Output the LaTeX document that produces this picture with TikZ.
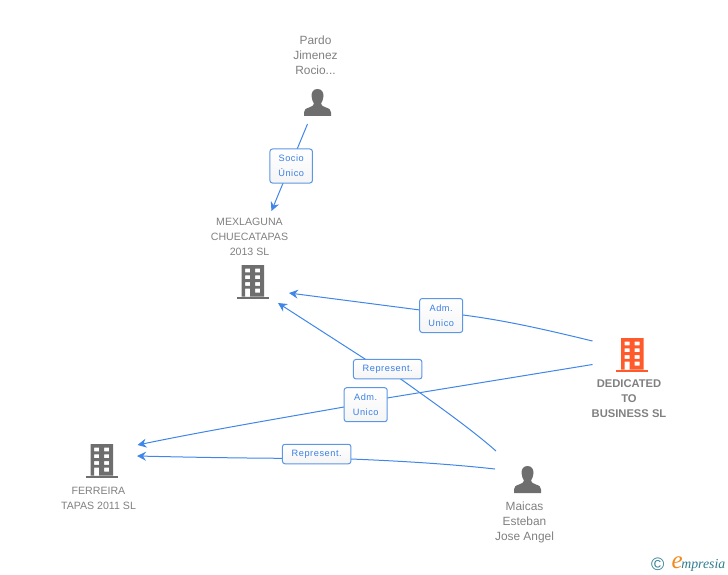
\documentclass[tikz,border=0pt]{standalone}
\usepackage{fontspec}
\setmainfont{Liberation Sans}
\newfontfamily\lblfont[LetterSpace=6]{Liberation Sans}
\newfontfamily\logofont{Liberation Serif}
\usetikzlibrary{arrows.meta}
\definecolor{txtgray}{HTML}{808080}
\definecolor{icongray}{HTML}{6E6E6E}
\definecolor{orangeb}{HTML}{FF5A2B}
\definecolor{linkblue}{HTML}{3F86E8}
\definecolor{boxblue}{HTML}{5C97E6}
\definecolor{lbltxt}{HTML}{3A7FE6}
\definecolor{logoteal}{HTML}{2F7C90}
\definecolor{logoorange}{HTML}{F08A1D}
\tikzset{
  x=1pt,y=-1pt,
  name text/.style={font=\fontsize{10.6}{15}\selectfont,text=txtgray,align=center,inner sep=0pt},
  person text/.style={font=\fontsize{11.9}{15}\selectfont,text=txtgray,align=center,inner sep=0pt},
  edge line/.style={draw=linkblue,line width=1pt,-{Stealth[length=9pt,width=9pt,inset=3pt]}},
  edge tag/.style={draw=boxblue,line width=1pt,rounded corners=2.5pt,top color=white,bottom color=white!96!black,
    text=lbltxt,font=\lblfont\fontsize{9.2}{15}\selectfont,align=center,inner sep=0pt,minimum height=#1},
  edge tag/.default=34pt,
}
\newcommand{\buildingicon}[3]{% left, top, colour
  \begin{scope}[shift={(#1,#2)}]
    \fill[#3,even odd rule] (5,0) rectangle (27.5,31.5)
      (8.7,3.6) rectangle (13.5,7.4) (18.7,3.6) rectangle (23.5,7.4)
      (8.7,10.3) rectangle (13.5,14.1) (18.7,10.3) rectangle (23.5,14.1)
      (8.7,17) rectangle (13.5,20.8) (18.7,17) rectangle (23.5,20.8)
      (8.7,23.7) rectangle (13.5,31.5) (18.7,23.7) rectangle (23.5,27.5);
    \fill[#3] (0,31.5) rectangle (32,34);
  \end{scope}}
\newcommand{\personicon}[2]{% left, top
  \begin{scope}[shift={(#1,#2)}]
    \fill[icongray] (13.5,0) .. controls (9,0) and (7.5,3.5) .. (7.5,7)
      .. controls (7.5,10) and (9,13) .. (10,14.5)
      .. controls (10,16.5) and (8,17.5) .. (5,18.5)
      .. controls (1.5,19.5) and (0,21) .. (0,23.5) -- (0,27) -- (27,27) -- (27,23.5)
      .. controls (27,21) and (25.5,19.5) .. (22,18.5)
      .. controls (19,17.5) and (17,16.5) .. (17,14.5)
      .. controls (18,13) and (19.5,10) .. (19.5,7)
      .. controls (19.5,3.5) and (18,0) .. (13.5,0) -- cycle;
  \end{scope}}
\begin{document}
\begin{tikzpicture}
\useasboundingbox (0,0) rectangle (728,575);
% anchors of the connectors
\coordinate (pardoOut) at (307.5,124);
\coordinate (mexIn1) at (271.5,211);
\coordinate (mexIn2) at (289,293);
\coordinate (mexIn3) at (278,303);
\coordinate (dedOut1) at (592.5,341);
\coordinate (dedOut2) at (592.5,364.5);
\coordinate (ferIn1) at (137.5,445);
\coordinate (ferIn2) at (137,456);
\coordinate (maiOut1) at (496,451);
\coordinate (maiOut2) at (495,469);
% connectors
\draw[edge line] (pardoOut) -- (mexIn1);
\draw[edge line] (dedOut1) .. controls (555,332) and (510,321) .. (463,315) -- (420,310) -- (mexIn2);
\draw[edge line] (maiOut1) .. controls (470,428) and (430,400) .. (400,378.5) -- (365,359) -- (mexIn3);
\draw[edge line] (dedOut2) -- (387,398) -- (344,407) .. controls (270,420) and (200,432) .. (ferIn1);
\draw[edge line] (maiOut2) .. controls (450,464) and (400,461) .. (351,459) -- (282,458.3) .. controls (230,458) and (180,457) .. (ferIn2);
% labels on connectors
\node[edge tag=34pt,minimum width=42.5pt] (socio) at (291.2,166) {Socio\\Único};
\node[edge tag=34pt,minimum width=43pt] (adm1) at (441.2,315.5) {Adm.\\Unico};
\node[edge tag=19.5pt,minimum width=68.5pt] (rep1) at (387.7,369.2) {Represent.};
\node[edge tag=34pt,minimum width=43pt] (adm2) at (365.7,404.7) {Adm.\\Unico};
\node[edge tag=19.5pt,minimum width=68.5pt] (rep2) at (316.7,454) {Represent.};
% icons
\buildingicon{616}{338}{orangeb}
\buildingicon{236.5}{265}{icongray}
\buildingicon{85.5}{444}{icongray}
\personicon{304}{89}
\personicon{514}{466}
% names
\node[person text] (pardo) at (315.5,55) {Pardo\\Jimenez\\Rocio...};
\node[name text] (mex) at (249.5,236.7) {MEXLAGUNA\\CHUECATAPAS\\2013 SL};
\node[name text,font=\bfseries\fontsize{11.2}{15}\selectfont] (ded) at (629,398.5) {DEDICATED\\TO\\BUSINESS SL};
\node[name text] (fer) at (98.5,498.2) {FERREIRA\\TAPAS 2011 SL};
\node[person text] (mai) at (524.5,522.5) {Maicas\\Esteban\\Jose Angel};
% logo
\node[inner sep=0pt,text=logoteal,font=\fontsize{18}{18}\selectfont] (copy) at (657.7,564) {©};
\node[inner sep=0pt,anchor=base west,font=\logofont\itshape\fontsize{13.8}{13}\selectfont,text=logoteal] (logo) at (671.5,568) {{\fontsize{25}{20}\selectfont\color{logoorange}e}\kern-1.5pt mpresia};
\end{tikzpicture}
\end{document}
